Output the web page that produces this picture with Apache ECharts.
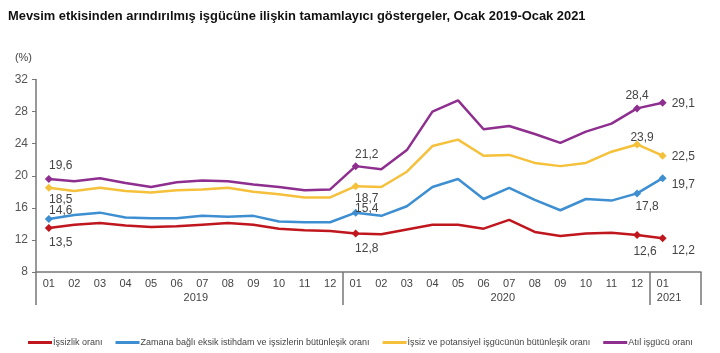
<!DOCTYPE html>
<html>
<head>
<meta charset="utf-8">
<script src="https://cdn.jsdelivr.net/npm/echarts@6/dist/echarts.min.js"></script>
<style>
  html, body { margin: 0; padding: 0; background: #fff; }
  #main { width: 720px; height: 353px; }
</style>
</head>
<body>
<div id="main"></div>
<script>
// aylar (son bos kategori eksenin sagindaki bosluk icin)
var months = ['01','02','03','04','05','06','07','08','09','10','11','12',
              '01','02','03','04','05','06','07','08','09','10','11','12',
              '01',''];
var years = ['2019', '2020', '2021'];
var yearSlots = [12, 36, 49];      // yari-kategori ekseninde yil etiketlerinin yeri
var yearBreaks = [0, 24, 48];      // ayirici cizgiler

var issizlik = [13.5,13.9,14.1,13.8,13.6,13.7,13.9,14.1,13.9,13.4,13.2,13.1,
                12.8,12.7,13.3,13.9,13.9,13.4,14.5,13.0,12.5,12.8,12.9,12.6,
                12.2];
var zamana   = [14.6,15.1,15.4,14.8,14.7,14.7,15.0,14.9,15.0,14.3,14.2,14.2,
                15.4,15.0,16.2,18.6,19.6,17.1,18.5,17.0,15.7,17.1,16.9,17.8,
                19.7];
var potansiyel = [18.5,18.1,18.5,18.1,17.9,18.2,18.3,18.5,18.0,17.7,17.3,17.3,
                  18.7,18.6,20.5,23.7,24.5,22.5,22.6,21.6,21.2,21.6,23.0,23.9,
                  22.5];
var atil     = [19.6,19.3,19.7,19.1,18.6,19.2,19.4,19.3,18.9,18.6,18.2,18.3,
                21.2,20.8,23.2,28.0,29.4,25.8,26.2,25.2,24.1,25.5,26.5,28.4,
                29.1];

var names = ['İşsizlik oranı',
             'Zamana bağlı eksik istihdam ve işsizlerin bütünleşik oranı',
             'İşsiz ve potansiyel işgücünün bütünleşik oranı',
             'Atıl işgücü oranı'];
var colors = ['#c0161e', '#3d8fd1', '#f5c03a', '#8e2f8f'];
var marked = [0, 12, 23, 24];

// etiket konumlari (isaretli noktalar icin)
var labelPos = [
  [['bottom', [12, 2]], ['bottom', [11, 2]], ['bottom', [8, 4]], ['right', [2, 12]]],
  [['top', [12, 5]], ['top', [11, 9]], ['bottom', [10, 0]], ['right', [2, 7]]],
  [['bottom', [12, -1]], ['bottom', [11, 0]], ['top', [5, 6]], ['right', [2, 1]]],
  [['top', [12, 0]], ['top', [11, 2]], ['top', [0, 0]], ['right', [2, 1]]]
];

function buildData (vals, si) {
  return vals.map(function (v, i) {
    var k = marked.indexOf(i);
    if (k < 0) return v;
    return {
      value: v,
      label: { show: true, position: labelPos[si][k][0], offset: labelPos[si][k][1] }
    };
  });
}

var yearAxisData = [];
for (var i = 0; i < 52; i++) {
  var yi = yearSlots.indexOf(i);
  yearAxisData.push(yi >= 0 ? years[yi] : '');
}

var myChart = echarts.init(document.getElementById('main'));

var series = [issizlik, zamana, potansiyel, atil].map(function (vals, si) {
  return {
    name: names[si],
    type: 'line',
    xAxisIndex: 0,
    data: buildData(vals, si),
    symbol: 'diamond',
    symbolSize: function (v, p) { return marked.indexOf(p.dataIndex) >= 0 ? 8 : 0; },
    showAllSymbol: true,
    lineStyle: { width: 2.5, color: colors[si] },
    itemStyle: { color: colors[si] },
    label: {
      show: false,
      fontSize: 12,
      color: '#444',
      distance: 3,
      formatter: function (p) { return String(p.value).replace('.', ','); }
    },
    emphasis: { disabled: true },
    z: 10 - si
  };
});

var option = {
  animation: false,
  color: colors,
  title: {
    text: 'Mevsim etkisinden arındırılmış işgücüne ilişkin tamamlayıcı göstergeler, Ocak 2019-Ocak 2021',
    left: 3, top: 5,
    textStyle: { fontSize: 12.9, fontWeight: 'bold', color: '#111', fontFamily: 'Liberation Sans' }
  },
  legend: {
    left: 23, top: 333,
    itemWidth: 24, itemHeight: 3, itemGap: 13,
    icon: 'rect',
    textStyle: { fontSize: 9, color: '#444', fontFamily: 'Liberation Sans', padding: [0, 0, 0, -4] },
    data: names
  },
  grid: { left: 36, right: 19, top: 79.5, bottom: 81 },
  xAxis: [
    {
      type: 'category',
      data: months,
      boundaryGap: true,
      axisLine: { lineStyle: { color: '#777', width: 1.5 } },
      axisTick: { show: false },
      axisLabel: { interval: 0, fontSize: 11, color: '#444', margin: 6, fontFamily: 'Liberation Sans' }
    },
    {
      type: 'category',
      data: yearAxisData,
      position: 'bottom',
      boundaryGap: true,
      axisLine: { show: false },
      axisTick: {
        show: true, length: 33,
        interval: function (idx) { return yearBreaks.indexOf(idx) >= 0; },
        lineStyle: { color: '#777', width: 1.5 }
      },
      axisLabel: { interval: 0, fontSize: 11, color: '#444', margin: 20, fontFamily: 'Liberation Sans' }
    }
  ],
  yAxis: {
    type: 'value',
    min: 8, max: 32, interval: 4,
    name: '(%)',
    nameLocation: 'end',
    nameGap: 16,
    nameTextStyle: { fontSize: 11, color: '#444', align: 'right', padding: [0, 4, 0, 0] },
    axisLine: { show: true, lineStyle: { color: '#777', width: 1.5 } },
    axisTick: { show: true, length: 4, lineStyle: { color: '#777' } },
    splitLine: { show: false },
    axisLabel: { fontSize: 12, color: '#555', margin: 8, fontFamily: 'Liberation Sans' }
  },
  series: series
};

myChart.setOption(option);
</script>
</body>
</html>
